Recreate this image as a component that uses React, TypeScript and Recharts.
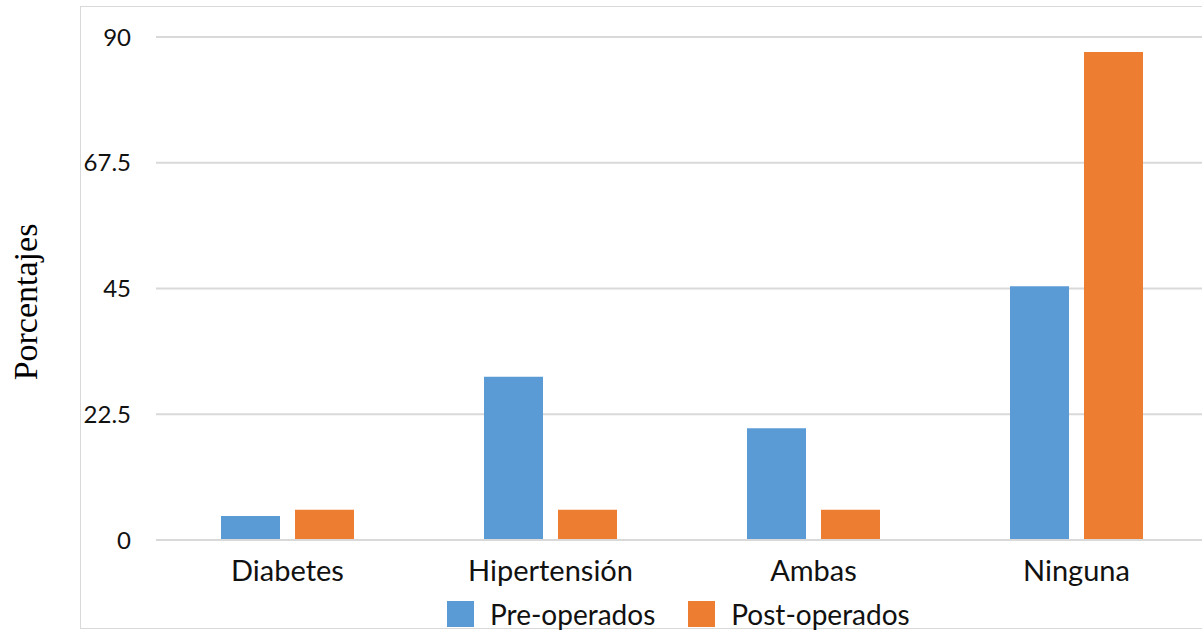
import { BarChart, Bar, XAxis, YAxis, CartesianGrid } from 'recharts';

const categories = ['Diabetes', 'Hipertensión', 'Ambas', 'Ninguna'];
const preOperados = [4.3, 29.2, 20.0, 45.4];
const postOperados = [5.4, 5.4, 5.4, 87.3];
const yTicks = [0, 22.5, 45, 67.5, 90];

const series = [
  { key: 'pre', name: 'Pre-operados', color: '#5B9BD5' },
  { key: 'post', name: 'Post-operados', color: '#ED7D31' },
];

const data = categories.map((name, i) => ({
  name,
  pre: preOperados[i],
  post: postOperados[i],
}));

const FONT = 'Lato, "Open Sans", sans-serif';
const GRID = '#d9d9d9';

const YLabel = () => (
  <text
    x={37}
    y={302}
    transform="rotate(-90, 37, 302)"
    textAnchor="middle"
    fontFamily='"Liberation Serif", "Times New Roman", serif'
    fontSize={34}
    fill="#000"
  >
    Porcentajes
  </text>
);

export default function App() {
  return (
    <div style={{ position: 'fixed', left: 0, top: 0, width: 1202, height: 631, background: '#fff', overflow: 'hidden' }}>
      <div style={{ position: 'absolute', left: 80, top: 6, width: 1200, height: 623, border: `1px solid ${GRID}`, boxSizing: 'border-box' }} />
      <BarChart
        width={1220}
        height={631}
        data={data}
        margin={{ top: 37, right: 12, left: 0, bottom: 31 }}
        barCategoryGap={65}
        barGap={15}
        style={{ position: 'absolute', left: 0, top: 0 }}
      >
        <CartesianGrid vertical={false} stroke={GRID} strokeWidth={2} />
        <XAxis
          dataKey="name"
          height={60}
          axisLine={{ stroke: GRID, strokeWidth: 2 }}
          tickLine={false}
          tickSize={0}
          tickMargin={20}
          tick={{ fontFamily: FONT, fontSize: 29, fill: '#111' }}
        />
        <YAxis
          width={156}
          domain={[0, 90]}
          ticks={yTicks}
          axisLine={false}
          tickLine={false}
          tickSize={0}
          tickMargin={25}
          tick={{ fontFamily: FONT, fontSize: 24, fill: '#111' }}
          label={<YLabel />}
        />
        {series.map((s) => (
          <Bar key={s.key} dataKey={s.key} name={s.name} fill={s.color} isAnimationActive={false} />
        ))}
      </BarChart>
      <div
        style={{
          position: 'absolute',
          left: 447,
          top: 600,
          display: 'flex',
          alignItems: 'center',
          fontFamily: FONT,
          fontSize: 28,
          color: '#111',
          lineHeight: '28px',
        }}
      >
        {series.map((s, i) => (
          <div key={s.key} style={{ display: 'flex', alignItems: 'center', marginRight: i === 0 ? 33 : 0 }}>
            <span style={{ display: 'inline-block', width: 27, height: 26, background: s.color, marginRight: 16 }} />
            <span>{s.name}</span>
          </div>
        ))}
      </div>
    </div>
  );
}
